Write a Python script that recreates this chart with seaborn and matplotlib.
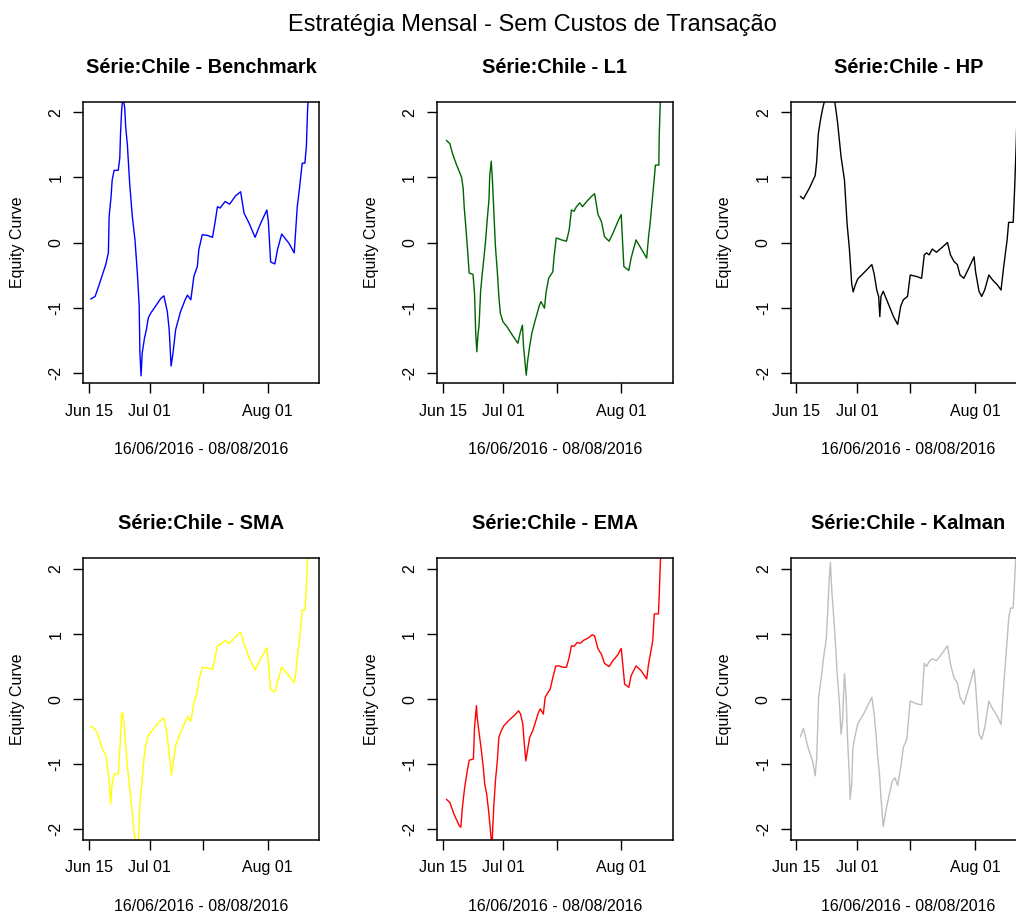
import pandas as pd
import matplotlib
matplotlib.use("Agg")
import matplotlib.pyplot as plt
import seaborn as sns

# ---------------- data ----------------
base_date = "2016-06-15"
tick_dates = ["2016-06-15", "2016-07-01", "2016-07-15", "2016-08-01"]
tick_labels = ["Jun 15", "Jul 01", "", "Aug 01"]
y_ticks = [-2, -1, 0, 1, 2]
y_tick_labels = ["-2", "-1", "0", "1", "2"]

suptitle = "Estratégia Mensal - Sem Custos de Transação"
titles = ["Série:Chile - Benchmark", "Série:Chile - L1", "Série:Chile - HP",
          "Série:Chile - SMA", "Série:Chile - EMA", "Série:Chile - Kalman"]
colors = ["#0000FF", "#006400", "#000000", "#FFFF00", "#FF0000", "#BEBEBE"]
ylabel = "Equity Curve"
xlabel = "16/06/2016 - 08/08/2016"

bench_days = [0.44, 1.6, 2.5, 4.4, 5.1, 5.3, 5.8, 6.1, 6.6, 7.7, 8.1, 8.3, 8.6, 8.9, 9.4,
              9.65, 10.1, 10.7, 11.4, 12.1, 12.7, 13.2, 13.4, 13.7, 14.0, 14.6, 15.1, 15.6,
              16.2, 17.5, 18.9, 19.7, 20.6, 21.1, 21.6, 22.1, 22.8, 24.1, 25.3, 25.9, 26.8,
              27.6, 28.5, 28.9, 29.8, 31.1, 32.5, 33.2, 33.8, 34.5, 35.8, 37.0, 38.6, 39.9,
              40.8, 42.1, 43.7, 45.2, 46.8, 47.2, 47.8, 48.9, 49.6, 50.7, 52.6, 54.0, 54.8,
              55.4, 56.1, 56.8, 57.2, 57.5, 58.0]
bench_vals = [-0.87, -0.83, -0.68, -0.34, -0.16, 0.40, 0.70, 0.96, 1.11, 1.11, 1.30, 1.68,
              2.04, 2.25, 2.07, 1.78, 1.50, 0.91, 0.40, 0.04, -0.45, -0.96, -1.70, -2.05,
              -1.70, -1.47, -1.34, -1.16, -1.09, -0.98, -0.86, -0.82, -1.06, -1.34, -1.90,
              -1.70, -1.34, -1.06, -0.88, -0.81, -0.88, -0.52, -0.37, -0.11, 0.12, 0.11, 0.08,
              0.32, 0.55, 0.53, 0.63, 0.59, 0.72, 0.78, 0.45, 0.30, 0.08, 0.30, 0.50, 0.32,
              -0.30, -0.33, -0.11, 0.13, -0.01, -0.16, 0.55, 0.84, 1.22, 1.22, 1.48, 2.02, 2.6]

l1_days = [1.0, 1.9, 2.6, 3.5, 4.4, 5.0, 5.4, 5.7, 6.1, 6.5, 7.0, 8.0, 8.4, 8.7, 9.0, 9.3,
           9.6, 10.0, 10.4, 10.9, 11.3, 11.7, 12.2, 12.4, 12.8, 13.1, 13.5, 13.9, 14.4, 14.8,
           15.2, 15.9, 17.0, 18.3, 19.8, 20.5, 21.0, 21.3, 21.8, 22.0, 22.4, 22.9, 23.5, 24.4,
           25.5, 25.9, 26.8, 27.2, 27.9, 29.0, 29.3, 29.9, 31.3, 32.6, 33.3, 33.9, 34.6, 35.2,
           36.1, 36.8, 37.9, 39.2, 40.0, 40.9, 41.8, 42.6, 43.8, 44.8, 46.1, 47.0, 47.4, 47.7,
           49.0, 49.6, 50.9, 52.2, 53.7, 54.2, 54.6, 55.1, 55.7, 56.0, 56.9, 57.0, 57.5]
l1_vals = [1.57, 1.52, 1.37, 1.22, 1.09, 1.00, 0.84, 0.53, 0.25, -0.06, -0.47, -0.49, -0.78,
           -1.37, -1.68, -1.42, -1.27, -0.75, -0.50, -0.22, 0.02, 0.32, 0.66, 1.02, 1.25, 0.97,
           0.45, -0.06, -0.45, -0.83, -1.09, -1.22, -1.30, -1.42, -1.55, -1.37, -1.27, -1.60,
           -1.91, -2.04, -1.81, -1.60, -1.39, -1.19, -0.96, -0.91, -1.01, -0.78, -0.55, -0.45,
           -0.24, 0.07, 0.04, 0.02, 0.19, 0.50, 0.48, 0.55, 0.61, 0.55, 0.63, 0.71, 0.75, 0.43,
           0.32, 0.09, 0.02, 0.14, 0.32, 0.43, -0.04, -0.37, -0.43, -0.24, 0.04, -0.09, -0.24,
           0.09, 0.29, 0.61, 0.99, 1.19, 1.19, 1.63, 2.6]

hp_days = [1.1, 1.9, 3.5, 5.0, 5.4, 5.8, 6.4, 7.0, 8.2, 9.5, 10.9, 11.8, 12.7, 13.4, 14.0,
           14.6, 15.0, 15.5, 16.2, 17.9, 19.9, 20.5, 21.2, 21.7, 22.0, 22.3, 22.9, 24.5, 25.6,
           26.7, 27.5, 28.2, 29.3, 30.0, 31.5, 33.0, 33.7, 34.3, 35.0, 35.8, 36.9, 38.5, 39.8,
           40.6, 41.5, 42.4, 43.1, 44.1, 45.2, 46.8, 47.2, 48.1, 48.8, 49.6, 50.7, 51.6, 52.9,
           53.9, 54.6, 55.5, 55.9, 57.1, 57.5, 57.9, 58.2]
hp_vals = [0.71, 0.67, 0.84, 1.03, 1.25, 1.66, 1.89, 2.07, 2.35, 2.45, 1.84, 1.32, 0.96, 0.28,
           -0.10, -0.63, -0.76, -0.66, -0.56, -0.46, -0.34, -0.48, -0.73, -0.83, -1.14, -0.83,
           -0.75, -0.98, -1.14, -1.26, -0.98, -0.88, -0.83, -0.50, -0.52, -0.55, -0.19, -0.16,
           -0.19, -0.10, -0.15, -0.07, 0.00, -0.19, -0.29, -0.34, -0.50, -0.55, -0.42, -0.22,
           -0.45, -0.75, -0.83, -0.73, -0.50, -0.57, -0.65, -0.73, -0.37, 0.04, 0.31, 0.31,
           0.86, 1.53, 2.2]

sma_days = [0.44, 1.6, 2.5, 3.5, 4.4, 4.8, 5.3, 5.7, 6.1, 6.6, 7.7, 8.2, 8.6, 8.9, 9.2, 9.6,
            10.1, 10.5, 11.0, 11.4, 11.8, 12.8, 13.4, 13.9, 14.5, 14.9, 15.6, 16.7, 18.4, 19.7,
            20.4, 21.1, 21.7, 22.2, 22.8, 24.1, 25.3, 25.9, 26.8, 27.6, 28.5, 28.9, 29.8, 31.1,
            32.5, 33.2, 33.8, 34.6, 35.8, 37.0, 38.6, 39.9, 40.8, 42.1, 43.7, 45.2, 46.8, 47.2,
            47.8, 48.9, 49.6, 50.7, 52.6, 54.0, 54.4, 54.8, 55.4, 56.1, 56.8, 57.2, 57.8]
sma_vals = [-0.42, -0.46, -0.58, -0.76, -0.86, -1.04, -1.25, -1.61, -1.30, -1.15, -1.15, -0.69,
            -0.23, -0.21, -0.38, -0.69, -1.04, -1.25, -1.53, -1.76, -2.02, -2.4, -1.61, -1.30,
            -0.89, -0.71, -0.56, -0.48, -0.35, -0.29, -0.48, -0.84, -1.17, -0.94, -0.71, -0.51,
            -0.35, -0.27, -0.34, -0.05, 0.11, 0.29, 0.49, 0.48, 0.46, 0.64, 0.82, 0.84, 0.90,
            0.86, 0.96, 1.03, 0.85, 0.64, 0.45, 0.62, 0.79, 0.59, 0.14, 0.11, 0.26, 0.49, 0.36,
            0.25, 0.39, 0.64, 0.93, 1.37, 1.37, 1.72, 2.6]

ema_days = [1.0, 1.9, 3.0, 4.4, 4.8, 5.2, 5.8, 6.5, 7.0, 8.1, 8.4, 8.9, 9.1, 9.7, 10.2, 10.7,
            11.1, 11.6, 12.2, 12.6, 13.0, 13.2, 13.5, 13.9, 14.4, 14.8, 15.4, 16.1, 17.4, 18.7,
            20.0, 20.5, 21.1, 21.5, 21.9, 22.4, 22.9, 23.7, 24.4, 25.2, 25.7, 26.5, 27.0, 27.7,
            28.3, 29.0, 29.8, 30.7, 31.6, 32.6, 33.3, 33.9, 34.6, 35.4, 36.3, 37.0, 38.3, 39.4,
            40.0, 40.9, 41.8, 42.6, 43.8, 44.8, 46.1, 47.0, 47.4, 47.9, 49.0, 49.6, 50.9, 52.2,
            53.7, 54.2, 54.6, 55.3, 55.7, 56.8, 57.0, 57.6]
ema_vals = [-1.54, -1.59, -1.77, -1.95, -1.97, -1.67, -1.36, -1.10, -0.94, -0.92, -0.44, -0.10,
            -0.28, -0.56, -0.79, -1.05, -1.31, -1.46, -1.77, -2.03, -2.3, -1.97, -1.62, -1.26,
            -0.95, -0.59, -0.49, -0.41, -0.33, -0.26, -0.18, -0.23, -0.38, -0.69, -0.95, -0.77,
            -0.59, -0.49, -0.36, -0.21, -0.15, -0.23, 0.03, 0.10, 0.15, 0.33, 0.51, 0.51, 0.49,
            0.49, 0.64, 0.82, 0.81, 0.87, 0.86, 0.90, 0.94, 0.99, 0.97, 0.77, 0.69, 0.55, 0.50,
            0.59, 0.68, 0.78, 0.54, 0.23, 0.18, 0.36, 0.51, 0.44, 0.31, 0.54, 0.67, 0.90, 1.31,
            1.31, 1.59, 2.6]

kalman_days = [1.1, 1.9, 3.1, 4.4, 5.0, 5.4, 5.9, 6.6, 7.2, 7.9, 8.3, 8.7, 9.0, 9.4, 10.1,
               10.8, 11.4, 11.8, 12.2, 12.7, 13.1, 13.5, 14.0, 14.2, 14.6, 14.9, 15.3, 16.2,
               17.9, 19.9, 20.5, 21.0, 21.4, 21.9, 22.3, 22.9, 23.6, 24.5, 25.3, 26.0, 26.7,
               27.5, 28.2, 29.1, 30.0, 31.5, 33.0, 33.7, 34.3, 35.0, 35.8, 36.9, 38.5, 39.8,
               40.6, 41.5, 42.4, 43.1, 44.1, 45.2, 46.8, 47.2, 48.1, 48.8, 49.6, 50.7, 51.6,
               52.9, 53.9, 54.6, 55.5, 55.9, 56.4, 57.1, 57.7, 58.2]
kalman_vals = [-0.58, -0.45, -0.74, -0.97, -1.18, -0.90, 0.03, 0.33, 0.64, 0.92, 1.36, 1.85,
               2.10, 1.64, 1.08, 0.38, -0.08, -0.54, -0.33, 0.39, 0.08, -0.59, -1.21, -1.54,
               -1.31, -0.77, -0.62, -0.38, -0.21, 0.03, -0.23, -0.54, -0.85, -1.15, -1.51,
               -1.96, -1.72, -1.46, -1.26, -1.21, -1.33, -1.05, -0.74, -0.62, -0.03, -0.07,
               -0.09, 0.55, 0.50, 0.58, 0.62, 0.59, 0.71, 0.82, 0.54, 0.33, 0.25, 0.03, -0.08,
               0.13, 0.46, 0.21, -0.54, -0.62, -0.44, -0.03, -0.14, -0.26, -0.39, 0.21, 0.90,
               1.23, 1.40, 1.40, 2.08, 2.6]

series = [(bench_days, bench_vals), (l1_days, l1_vals), (hp_days, hp_vals),
          (sma_days, sma_vals), (ema_days, ema_vals), (kalman_days, kalman_vals)]

# ---------------- style ----------------
sns.set_theme(style="white")
plt.rcParams["font.family"] = ["Liberation Sans", "DejaVu Sans"]

W, H = 1016, 916
fig = plt.figure(figsize=(W / 100, H / 100), dpi=100)

col_left = [83.3, 436.9, 790.5]
row_top = [101.7, 558.3]
ax_w, ax_h = 236.0, 281.6

base = pd.Timestamp(base_date)
xlim = (base + pd.Timedelta(days=-1.5), base + pd.Timedelta(days=60.6))
ylim = (-2.165, 2.165)

for i, ((days, vals), title, color) in enumerate(zip(series, titles, colors)):
    r, c = divmod(i, 3)
    left = col_left[c] / W
    bottom = 1 - (row_top[r] + ax_h) / H
    ax = fig.add_axes([left, bottom, ax_w / W, ax_h / H])
    df = pd.DataFrame({"date": base + pd.to_timedelta(days, unit="D"), "value": vals})
    sns.lineplot(data=df, x="date", y="value", ax=ax, color=color, linewidth=1.0,
                 sort=False, estimator=None)
    ax.set_xlim(*xlim)
    ax.set_ylim(*ylim)
    ax.set_xticks(pd.to_datetime(tick_dates))
    ax.set_xticklabels(tick_labels)
    ax.set_yticks(y_ticks)
    ax.set_yticklabels(y_tick_labels, rotation=90, va="center")
    ax.grid(False)
    for sp in ax.spines.values():
        sp.set_visible(True)
        sp.set_color("black")
        sp.set_linewidth(1.1)
    ax.tick_params(axis="both", which="major", direction="out", length=7.2, width=1.0,
                   color="black", labelcolor="black", labelsize=11.5,
                   bottom=True, left=True, top=False, right=False)
    ax.tick_params(axis="x", pad=7.5)
    ax.tick_params(axis="y", pad=7.0)
    ax.set_title(title, fontsize=14.4, fontweight="bold", pad=20.9, color="black")
    ax.set_ylabel(ylabel, fontsize=11.5, color="black")
    ax.set_xlabel(xlabel, fontsize=11.5, color="black")
    ax.yaxis.set_label_coords(-0.247, 0.5)
    ax.xaxis.set_label_coords(0.5, -0.2085)
    ax.set_facecolor("white")

fig.text(532.5 / W, 1 - 30.7 / H, suptitle, ha="center", va="baseline",
         fontsize=17, color="black")

fig.savefig("out.png", dpi=100, facecolor="white")
